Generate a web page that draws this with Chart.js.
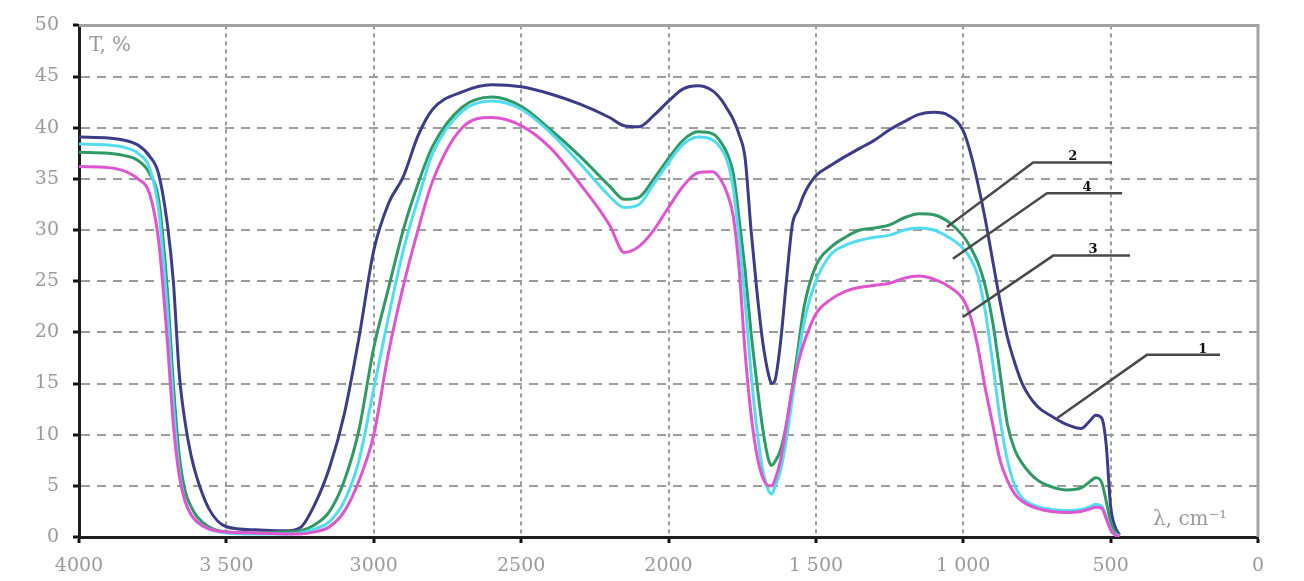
<!DOCTYPE html>
<html><head><meta charset="utf-8">
<script src="https://cdn.jsdelivr.net/npm/chart.js@4.4.0/dist/chart.umd.min.js"></script>
<style>html,body{margin:0;padding:0;background:#fff;overflow:hidden}</style>
</head><body>
<canvas id="c" width="1304" height="581"></canvas>
<script>
// wavenumber, cm^-1
const wavenumbers = [4000,3900,3850,3800,3760,3730,3700,3680,3660,3640,3620,3600,3560,3500,3400,3300,3250,3200,3150,3100,3050,3000,2950,2900,2850,2800,2700,2600,2500,2400,2300,2200,2150,2100,2050,2000,1950,1900,1850,1820,1800,1780,1760,1740,1720,1700,1680,1660,1650,1640,1620,1600,1580,1560,1540,1500,1450,1400,1350,1300,1250,1200,1150,1100,1050,1000,975,950,925,900,875,850,825,800,750,700,650,600,575,550,530,515,500,485,470];
// transmittance T, %
const series1 = [39.1,39.0,38.8,38.3,37.2,35.5,30.5,25,16,11.2, 8,5.8,2.8,1.0,0.7,0.6,0.9,3.2,6.8,12, 19.5,28,32.6,35.2,39.2,41.8,43.5,44.2,44.0,43.3, 42.3,41.0,40.2,40.1,41.2,42.6,43.8,44.1,43.6,42.7, 41.8,40.8,39.3,37.0,30,24,19,15.8,15.0,15.2, 19,25,30.5,32,33.5,35.3,36.3,37.2,38.0,38.8, 39.8,40.6,41.3,41.5,41.2,39.7,37.5,34.5,31,27, 23,19.5,17,15,12.8,11.8,11.0,10.6,11.2,11.9, 11.6,9,3,1,0.2];
const series2 = [37.6,37.5,37.3,36.8,35.5,33,24,15,8,4.5, 3,2,1,0.5,0.4,0.5,0.6,1.2,2.5,5.5, 10.5,18.5,24.3,30,34.5,38.2,42.0,43.0,42.1,39.8, 37.2,34.3,33.0,33.2,35.0,37.0,38.8,39.6,39.4,38.5, 37.4,35.5,31,26,20,15,10.5,7.5,7.0,7.3, 8.5,11,14.5,18.5,22.5,26.5,28.3,29.3,30.0,30.2, 30.5,31.2,31.6,31.5,30.8,29.4,28.3,26.8,24.5,21, 16,11,8.5,7.2,5.6,4.9,4.6,4.8,5.3,5.8, 5.3,3.5,1.5,0.5,0.1];
const series3 = [36.2,36.1,35.8,35.0,33.5,29,19,11,6,3.5, 2.2,1.5,0.8,0.5,0.4,0.3,0.3,0.5,1.0,2.5, 5.5,10,18,24.5,30,34.8,40.0,41.0,40.2,38.0, 34.5,30.5,27.8,28.4,30.0,32.2,34.3,35.6,35.7,34.8, 33.5,31.3,26,18,12,8,5.8,5.0,5.0,5.5, 7.5,11,14.5,17,19,21.8,23.2,24.0,24.4,24.6, 24.8,25.3,25.5,25.2,24.5,23.2,21.5,18.5,14.5,11, 7.5,5.5,4.2,3.5,2.8,2.5,2.4,2.5,2.7,2.9, 2.8,1.8,0.7,0.2,0];
const series4 = [38.4,38.3,38.1,37.5,36,32,22,13,6.5,3.5, 2.2,1.5,0.8,0.4,0.3,0.3,0.4,0.8,1.5,3.5, 7.5,14.5,21.5,28,33,37.5,41.6,42.6,41.8,39.5, 36.5,33.3,32.2,32.5,34.5,36.6,38.4,39.1,38.8,37.9, 36.7,34,29,23,16,10.5,6.5,4.5,4.2,4.8, 6.5,9.5,13.5,17.5,21,25,27.6,28.5,29.0,29.3, 29.5,30.0,30.2,30.0,29.3,28.2,27.2,25.5,22,17, 11.5,7.5,5,3.8,3.0,2.7,2.6,2.7,2.9,3.2, 3.0,2,0.8,0.3,0.1];

const xTickValues = [4000,3500,3000,2500,2000,1500,1000,500,0];
const xTickText = ['4000','3 500','3000','2500','2000','1 500','1 000','500','0'];
const yTickValues = [0,5,10,15,20,25,30,35,40,45,50];

// leader lines (curve number labels), in data units
const leaderLabels = ['2','4','3','1'];
const leaderStart = [[1055,30.3],[1035,27.2],[1001,21.5],[682,11.6]];
const leaderKnee  = [[763,36.6],[716,33.6],[695,27.5],[377,17.8]];
const leaderEnd   = [[495,36.6],[461,33.6],[434,27.5],[129,17.8]];
const leaderTextX = [628,580,560,187];

const toPts = s => wavenumbers.map((w,i)=>({x:w,y:s[i]}));

const overlay = {
  id:'overlay',
  beforeDatasetsDraw(chart){
    const {ctx, chartArea:a} = chart;
    ctx.save();
    ctx.strokeStyle='#a3a3a3'; ctx.lineWidth=3; ctx.setLineDash([]);
    ctx.beginPath(); ctx.moveTo(a.left,a.top); ctx.lineTo(a.right,a.top); ctx.lineTo(a.right,a.bottom); ctx.stroke();
    ctx.fillStyle='#9a9a9a';
    ctx.font='20px "DejaVu Serif"';
    ctx.textBaseline='middle'; ctx.textAlign='left';
    ctx.fillText('T, %', a.left+10, a.top+20);
    ctx.font='20px "DejaVu Serif"';
    ctx.fillText('λ, cm⁻¹', a.left+1074, a.bottom-17);
    ctx.restore();
  },
  afterDatasetsDraw(chart){
    const {ctx, scales:{x,y}} = chart;
    ctx.save();
    ctx.strokeStyle='#4a4a4a'; ctx.lineWidth=2.5; ctx.setLineDash([]);
    ctx.fillStyle='#111';
    ctx.font='bold 13px "DejaVu Serif"';
    ctx.textAlign='center'; ctx.textBaseline='bottom';
    for(let i=0;i<leaderLabels.length;i++){
      ctx.beginPath();
      ctx.moveTo(x.getPixelForValue(leaderStart[i][0]), y.getPixelForValue(leaderStart[i][1]));
      ctx.lineTo(x.getPixelForValue(leaderKnee[i][0]), y.getPixelForValue(leaderKnee[i][1]));
      ctx.lineTo(x.getPixelForValue(leaderEnd[i][0]), y.getPixelForValue(leaderEnd[i][1]));
      ctx.stroke();
      ctx.fillText(leaderLabels[i], x.getPixelForValue(leaderTextX[i]), y.getPixelForValue(leaderKnee[i][1])+1);
    }
    ctx.restore();
  }
};

const mk = (data,color)=>({data:toPts(data), borderColor:color, borderWidth:3, pointRadius:0, showLine:true, fill:false, cubicInterpolationMode:'monotone'});

new Chart(document.getElementById('c'),{
  type:'scatter',
  data:{datasets:[
    mk(series3,'#de55cf'),
    mk(series4,'#52dcee'),
    mk(series2,'#2f9a66'),
    mk(series1,'#3c3c88')
  ]},
  options:{
    responsive:false, animation:false, devicePixelRatio:1,
    layout:{padding:{left:0,right:46,top:25,bottom:0}},
    plugins:{legend:{display:false},tooltip:{enabled:false}},
    scales:{
      x:{type:'linear',reverse:true,min:0,max:4000,
        afterBuildTicks(s){s.ticks=xTickValues.map(v=>({value:v}));},
        afterFit(s){s.height=44;},
        ticks:{autoSkip:false,maxRotation:0,padding:12,color:'#9a9a9a',font:{family:'"DejaVu Serif"',size:19},
          callback:(v)=>{const i=xTickValues.indexOf(v);return i<0?'':xTickText[i];}},
        grid:{color:'#9c9c9c',lineWidth:2,drawTicks:true,tickLength:6,tickColor:'#111',tickWidth:3,tickBorderDash:[]},
        border:{display:true,color:'#1e1e1e',width:3,dash:[4,4]}
      },
      y:{type:'linear',min:0,max:50,
        afterBuildTicks(s){s.ticks=yTickValues.map(v=>({value:v}));},
        afterFit(s){s.width=79;},
        ticks:{padding:14,color:'#9a9a9a',font:{family:'"DejaVu Serif"',size:19}},
        grid:{color:'#9c9c9c',lineWidth:2,drawTicks:true,tickLength:6,tickColor:'#111',tickWidth:3,tickBorderDash:[]},
        border:{display:true,color:'#1e1e1e',width:3,dash:[9,7]}
      }
    }
  },
  plugins:[overlay]
});
</script>
</body></html>
